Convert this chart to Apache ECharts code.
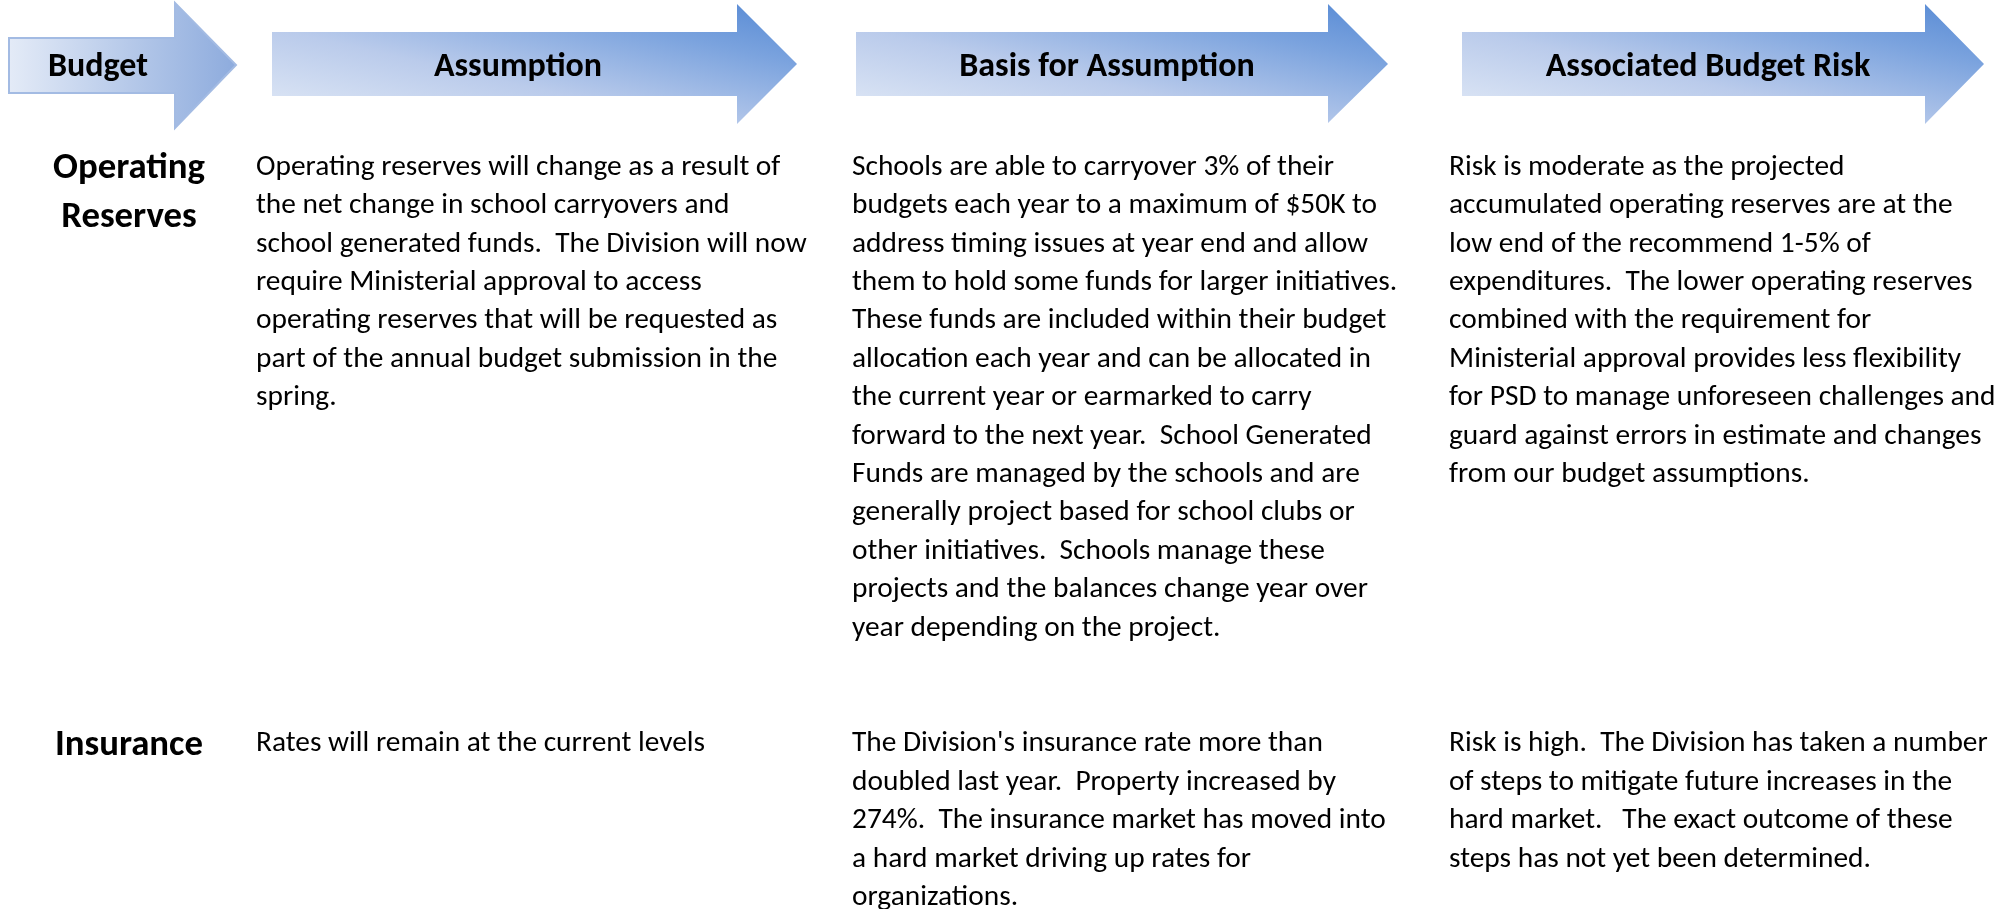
<!DOCTYPE html>
<html>
<head>
<meta charset="utf-8">
<title>Budget Assumptions</title>
<script src="https://cdn.jsdelivr.net/npm/echarts@6/dist/echarts.min.js"></script>
<style>
  html, body { margin: 0; padding: 0; background: #fff; }
  #main { width: 2004px; height: 909px; }
</style>
</head>
<body>
<div id="main"></div>
<script>
// header arrows
const headers = ['Budget', 'Assumption', 'Basis for Assumption', 'Associated Budget Risk'];

// row labels
const rowLabels = [['Operating', 'Reserves'], ['Insurance']];

// column texts, one array of lines per row
const assumptionText = [
  [
    'Operating reserves will change as a result of',
    'the net change in school carryovers and',
    'school generated funds.  The Division will now',
    'require Ministerial approval to access',
    'operating reserves that will be requested as',
    'part of the annual budget submission in the',
    'spring.'
  ],
  ['Rates will remain at the current levels']
];
const basisText = [
  [
    'Schools are able to carryover 3% of their',
    'budgets each year to a maximum of $50K to',
    'address timing issues at year end and allow',
    'them to hold some funds for larger initiatives.',
    'These funds are included within their budget',
    'allocation each year and can be allocated in',
    'the current year or earmarked to carry',
    'forward to the next year.  School Generated',
    'Funds are managed by the schools and are',
    'generally project based for school clubs or',
    'other initiatives.  Schools manage these',
    'projects and the balances change year over',
    'year depending on the project.'
  ],
  [
    "The Division's insurance rate more than",
    'doubled last year.  Property increased by',
    '274%.  The insurance market has moved into',
    'a hard market driving up rates for',
    'organizations.'
  ]
];
const riskText = [
  [
    'Risk is moderate as the projected',
    'accumulated operating reserves are at the',
    'low end of the recommend 1-5% of',
    'expenditures.  The lower operating reserves',
    'combined with the requirement for',
    'Ministerial approval provides less flexibility',
    'for PSD to manage unforeseen challenges and',
    'guard against errors in estimate and changes',
    'from our budget assumptions.'
  ],
  [
    'Risk is high.  The Division has taken a number',
    'of steps to mitigate future increases in the',
    'hard market.   The exact outcome of these',
    'steps has not yet been determined.'
  ]
];

// layout
const FONT = '"Liberation Sans Narrow", Carlito, "Open Sans", sans-serif';
const bodyFont = '29.4px ' + FONT;
const headerFont = 'bold 34px ' + FONT;
const labelFont = 'bold 36.8px ' + FONT;
const lineH = 38.4;
const rowTop = [167.5, 744];
const labelX = 129;
const labelY = [[169, 218], [746]];
const colX = [256, 852, 1449];
const headerCenter = [98, 518, 1107, 1708];

// arrow shapes: [left, bodyTop, bodyBottom, headX, headTop, headBottom, tipX, tipY]
const arrowGeo = [
  [9, 38, 93, 175, 3, 128, 236, 65],
  [272, 32, 96, 737, 4, 124, 797, 64],
  [856, 32, 96, 1328, 4, 123, 1388, 64],
  [1462, 32, 96, 1925, 4, 124, 1984, 64]
];

function arrowPoints(g) {
  return [[g[0], g[1]], [g[3], g[1]], [g[3], g[4]], [g[6], g[7]],
    [g[3], g[5]], [g[3], g[2]], [g[0], g[2]]];
}

// diagonal gradient like office "scale with shape": isolines run along
// the bounding box diagonal, light at bottom-left, dark at top-right
function diagGradient(g) {
  const left = g[0], bottom = g[5], w = g[6] - g[0], h = g[5] - g[4];
  const k = 2 * w * h / (w * w + h * h);
  return new echarts.graphic.LinearGradient(
    left, bottom, left + h * k, bottom - w * k,
    [
      { offset: 0, color: '#e3ebf7' },
      { offset: 0.4, color: '#bacbeb' },
      { offset: 0.75, color: '#7ba3de' },
      { offset: 1, color: '#5589d4' }
    ],
    true
  );
}

const chart = echarts.init(document.getElementById('main'), null, { renderer: 'canvas' });

const elements = [];

// arrows
arrowGeo.forEach((g, i) => {
  let fill;
  if (i === 0) {
    fill = new echarts.graphic.LinearGradient(0, 0, 1, 0, [
      { offset: 0, color: '#e4ebf7' },
      { offset: 1, color: '#8dabdd' }
    ]);
  } else {
    fill = diagGradient(g);
  }
  elements.push({
    type: 'polygon',
    shape: { points: arrowPoints(g) },
    style: i === 0
      ? { fill: fill, stroke: '#a3bbe3', lineWidth: 2 }
      : { fill: fill }
  });
  elements.push({
    type: 'text',
    x: headerCenter[i],
    y: 67,
    style: {
      text: headers[i],
      font: headerFont,
      fill: '#000',
      textAlign: 'center',
      textVerticalAlign: 'middle'
    }
  });
});

// row labels
rowLabels.forEach((lines, r) => {
  lines.forEach((t, k) => {
    elements.push({
      type: 'text',
      x: labelX,
      y: labelY[r][k],
      style: {
        text: t,
        font: labelFont,
        fill: '#000',
        textAlign: 'center',
        textVerticalAlign: 'middle'
      }
    });
  });
});

// body text columns
[assumptionText, basisText, riskText].forEach((col, c) => {
  col.forEach((lines, r) => {
    lines.forEach((t, k) => {
      elements.push({
        type: 'text',
        x: colX[c],
        y: rowTop[r] + k * lineH,
        style: {
          text: t,
          font: bodyFont,
          fill: '#000',
          textAlign: 'left',
          textVerticalAlign: 'middle'
        }
      });
    });
  });
});

chart.setOption({
  backgroundColor: '#fff',
  animation: false,
  graphic: { elements: elements }
});
</script>
</body>
</html>
